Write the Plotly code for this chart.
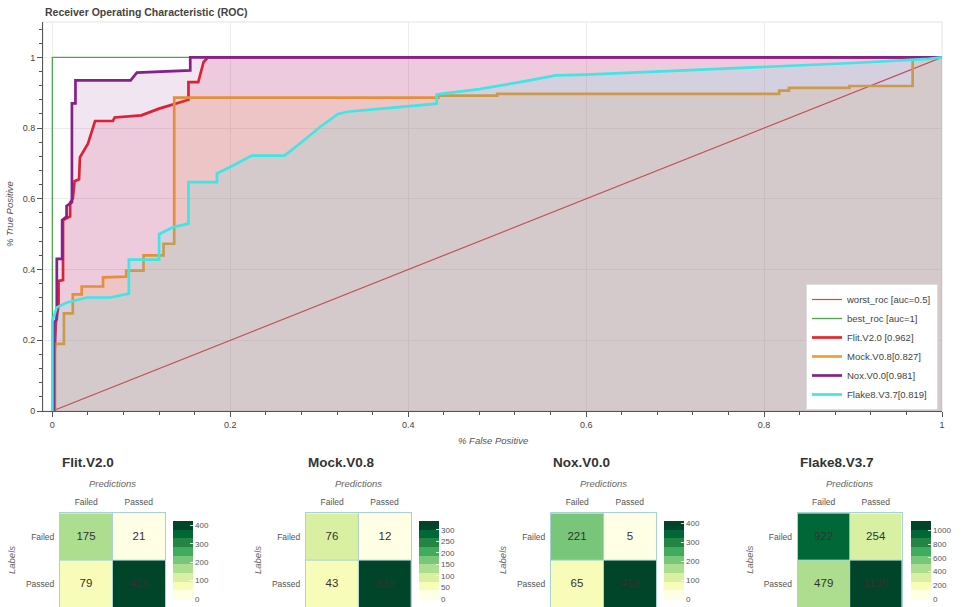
import plotly.graph_objects as go

W, H = 964, 607
def px_x(x):
    return x / W
def px_y(y):
    return 1 - y / H

# ---------------- data ----------------
worst_fpr = [0, 1]
worst_tpr = [0, 1]
best_fpr = [0, 0, 1]
best_tpr = [0, 1, 1]

flit_fpr = [0, 0.004, 0.007, 0.007, 0.012, 0.012, 0.02, 0.02, 0.023, 0.025, 0.03, 0.031, 0.04,
            0.048, 0.068, 0.07, 0.1, 0.12, 0.153, 0.153, 0.164, 0.17, 0.175, 0.56, 1.0]
flit_tpr = [0, 0.25, 0.30, 0.368, 0.37, 0.54, 0.55, 0.59, 0.60, 0.65, 0.655, 0.717, 0.756,
            0.82, 0.82, 0.83, 0.836, 0.855, 0.88, 0.93, 0.93, 0.987, 1.0, 1.0, 1.0]

mock_fpr = [0, 0.003, 0.003, 0.013, 0.013, 0.023, 0.023, 0.033, 0.033, 0.057, 0.057, 0.083,
            0.083, 0.1025, 0.1025, 0.125, 0.125, 0.137, 0.137, 0.434, 0.434, 0.5, 0.5, 0.817,
            0.817, 0.828, 0.828, 0.896, 0.896, 0.967, 0.967, 1.0]
mock_tpr = [0, 0.0, 0.19, 0.19, 0.276, 0.276, 0.33, 0.33, 0.352, 0.352, 0.378, 0.38,
            0.397, 0.397, 0.44, 0.44, 0.473, 0.473, 0.886, 0.886, 0.892, 0.892, 0.897, 0.897,
            0.906, 0.906, 0.914, 0.914, 0.919, 0.919, 0.996, 1.0]

nox_fpr = [0, 0.002, 0.002, 0.005, 0.005, 0.011, 0.011, 0.016, 0.016, 0.022, 0.022, 0.026,
           0.026, 0.088, 0.095, 0.15, 0.155, 0.155, 1.0]
nox_tpr = [0, 0.0, 0.25, 0.26, 0.43, 0.43, 0.54, 0.55, 0.58, 0.59, 0.87, 0.87,
           0.935, 0.935, 0.957, 0.963, 0.963, 1.0, 1.0]

flake8_fpr = [0, 0.0, 0.005, 0.0165, 0.039, 0.065, 0.086, 0.086, 0.12, 0.12, 0.136, 0.15,
              0.153, 0.153, 0.185, 0.185, 0.2, 0.224, 0.261, 0.28, 0.301, 0.321, 0.334, 0.38,
              0.432, 0.432, 0.48, 0.53, 0.566, 0.6, 0.7, 0.8, 0.9, 0.985, 1.0]
flake8_tpr = [0, 0.255, 0.293, 0.307, 0.321, 0.321, 0.332, 0.428, 0.428, 0.50, 0.52, 0.527,
              0.53, 0.647, 0.647, 0.672, 0.69, 0.722, 0.722, 0.76, 0.803, 0.84, 0.847, 0.857,
              0.869, 0.895, 0.91, 0.932, 0.949, 0.951, 0.962, 0.973, 0.984, 0.996, 1.0]

model_names = ["Flit.V2.0", "Mock.V0.8", "Nox.V0.0", "Flake8.V3.7"]
legend_labels = ["worst_roc [auc=0.5]", "best_roc [auc=1]", "Flit.V2.0 [0.962]",
                 "Mock.V0.8[0.827]", "Nox.V0.0[0.981]", "Flake8.V3.7[0.819]"]

cm_classes = ["Failed", "Passed"]
cm_flit = [[175, 21], [79, 425]]
cm_mock = [[76, 12], [43, 339]]
cm_nox = [[221, 5], [65, 413]]
cm_flake8 = [[922, 254], [479, 1135]]
cbar_ticks_flit = [0, 100, 200, 300, 400]
cbar_ticks_mock = [0, 50, 100, 150, 200, 250, 300]
cbar_ticks_nox = [0, 100, 200, 300, 400]
cbar_ticks_flake8 = [0, 200, 400, 600, 800, 1000]

# ---------------- styles ----------------
FONT = "Liberation Sans, Arial, Helvetica, sans-serif"
line_colors = ["#e0453f", "#4ea64e", "#e6262f", "#f0a032", "#86208a", "#3ee6e6"]
fill_colors = ["rgba(220,20,60,0.12)", "rgba(255,165,0,0.10)",
               "rgba(128,0,128,0.10)", "rgba(0,255,255,0.10)"]
ylgn9 = ["#ffffe5", "#f7fcb9", "#d9f0a3", "#addd8e", "#78c679",
         "#41ab5d", "#238443", "#006837", "#004529"]
step_scale = []
for i, c in enumerate(ylgn9):
    step_scale.append([i / 9, c])
    step_scale.append([(i + 1) / 9, c])

fig = go.Figure()

# reference lines
fig.add_trace(go.Scatter(x=worst_fpr, y=worst_tpr, mode="lines", name=legend_labels[0],
                         line=dict(color=line_colors[0], width=1.2), xaxis="x", yaxis="y"))
fig.add_trace(go.Scatter(x=best_fpr, y=best_tpr, mode="lines", name=legend_labels[1],
                         line=dict(color=line_colors[1], width=1.3), xaxis="x", yaxis="y"))

models = [(flit_fpr, flit_tpr), (mock_fpr, mock_tpr), (nox_fpr, nox_tpr), (flake8_fpr, flake8_tpr)]
for k, (fx, fy) in enumerate(models):
    fig.add_trace(go.Scatter(x=fx, y=fy, mode="lines", fill="tozeroy",
                             fillcolor=fill_colors[k], line=dict(width=0),
                             showlegend=False, hoverinfo="skip", xaxis="x", yaxis="y"))
    fig.add_trace(go.Scatter(x=fx, y=fy, mode="lines", name=legend_labels[k + 2],
                             line=dict(color=line_colors[k + 2], width=2.7),
                             xaxis="x", yaxis="y"))

# ---------------- confusion matrices ----------------
cms = [cm_flit, cm_mock, cm_nox, cm_flake8]
cticks = [cbar_ticks_flit, cbar_ticks_mock, cbar_ticks_nox, cbar_ticks_flake8]
hm_left = [60, 306, 551, 797.7]
hm_right = [165, 410.7, 656, 901.7]
cb_left = [173, 419, 664.3, 910.7]
hm_top = 513.3

annotations = []
shapes = []
layout_axes = {}

for k in range(4):
    ax = k + 2
    xa, ya = f"x{ax}", f"y{ax}"
    zmax = max(max(r) for r in cms[k])
    fig.add_trace(go.Heatmap(
        z=cms[k], x=cm_classes, y=cm_classes, xaxis=xa, yaxis=ya,
        zmin=0, zmax=zmax, colorscale=step_scale,
        texttemplate="%{z}", textfont=dict(family=FONT, size=11.5, color="#333"),
        hoverinfo="skip",
        colorbar=dict(x=px_x(cb_left[k]), xanchor="left", xpad=0, ypad=0,
                      y=px_y(521), yanchor="top", lenmode="pixels", len=78,
                      thickness=20, outlinewidth=0, tickvals=cticks[k],
                      ticks="inside", ticklen=3, tickcolor="rgba(255,255,255,0.8)",
                      tickfont=dict(family=FONT, size=8, color="#555")),
    ))
    axstyle = dict(showline=True, mirror=True, linecolor="#a9d3d3", linewidth=1,
                   showgrid=False, zeroline=False, ticks="",
                   tickfont=dict(family=FONT, size=8.5, color="#555"))
    layout_axes[f"xaxis{ax}"] = dict(domain=[px_x(hm_left[k]), px_x(hm_right[k])], anchor=ya,
                                     side="top", ticklabelstandoff=4, **axstyle)
    layout_axes[f"yaxis{ax}"] = dict(domain=[0, px_y(hm_top)], anchor=xa,
                                     autorange="reversed", ticklabelstandoff=3, **axstyle)
    shapes.append(dict(type="line", xref=xa, yref=f"{ya} domain", x0=0.5, x1=0.5, y0=0, y1=1,
                       line=dict(color="#a9d3d3", width=1)))
    shapes.append(dict(type="line", xref=f"{xa} domain", yref=ya, x0=0, x1=1, y0=0.5, y1=0.5,
                       line=dict(color="#a9d3d3", width=1)))
    annotations.append(dict(text=f"<b>{model_names[k]}</b>", xref="paper", yref="paper",
                            x=px_x(hm_left[k]), y=px_y(463), xanchor="left", yanchor="middle",
                            showarrow=False, font=dict(family=FONT, size=13.5, color="#333")))
    annotations.append(dict(text="Predictions", xref="paper", yref="paper",
                            x=px_x((hm_left[k] + hm_right[k]) / 2), y=px_y(483),
                            xanchor="center", yanchor="middle", showarrow=False,
                            font=dict(family=FONT, size=9.5, color="#666", style="italic")))
    annotations.append(dict(text="Labels", xref="paper", yref="paper",
                            x=px_x(hm_left[k] - 49), y=px_y(560), textangle=-90,
                            xanchor="center", yanchor="middle", showarrow=False,
                            font=dict(family=FONT, size=9.5, color="#666", style="italic")))

# main titles
annotations.append(dict(text="<b>Receiver Operating Characteristic (ROC)</b>", xref="paper",
                        yref="paper", x=px_x(43), y=px_y(12), xanchor="left", yanchor="middle",
                        showarrow=False, font=dict(family=FONT, size=10.5, color="#444")))
annotations.append(dict(text="% False Positive", xref="paper", yref="paper",
                        x=px_x(493), y=px_y(440), xanchor="center", yanchor="middle",
                        showarrow=False, font=dict(family=FONT, size=9.5, color="#555", style="italic")))
annotations.append(dict(text="% True Positive", xref="paper", yref="paper",
                        x=px_x(10), y=px_y(214), xanchor="center", yanchor="middle",
                        textangle=-90, showarrow=False,
                        font=dict(family=FONT, size=9.5, color="#555", style="italic")))

shapes.append(dict(type="rect", xref="x domain", yref="y domain", x0=0, x1=1, y0=0, y1=1,
                   line=dict(color="#e3e3e3", width=1), layer="below"))

main_ax = dict(showline=True, linecolor="#555", linewidth=1, ticks="outside", ticklen=5,
               tickcolor="#555", showgrid=True, gridcolor="#ececec", zeroline=False,
               tick0=0, dtick=0.2, tickfont=dict(family=FONT, size=9, color="#444"),
               minor=dict(dtick=0.04, ticks="outside", ticklen=3, tickcolor="#555",
                          showgrid=False))

fig.update_layout(
    width=W, height=H, margin=dict(l=0, r=0, t=0, b=0, autoexpand=False),
    paper_bgcolor="white", plot_bgcolor="white",
    font=dict(family=FONT, color="#444"),
    xaxis=dict(domain=[px_x(43), px_x(942)], range=[-0.0105, 1.0], anchor="y", **main_ax),
    yaxis=dict(domain=[px_y(411), px_y(22)], range=[0, 1.1], anchor="x", **main_ax),
    legend=dict(x=px_x(806), y=px_y(284), xanchor="left", yanchor="top", bgcolor="white",
                bordercolor="#dddddd", borderwidth=1, itemwidth=30, tracegroupgap=0,
                font=dict(family=FONT, size=9.5, color="#444")),
    annotations=annotations, shapes=shapes,
    **layout_axes,
)

fig.write_html("out.html", config={"displayModeBar": False},
               post_script="document.body.style.margin='0';document.body.style.overflow='hidden';")
